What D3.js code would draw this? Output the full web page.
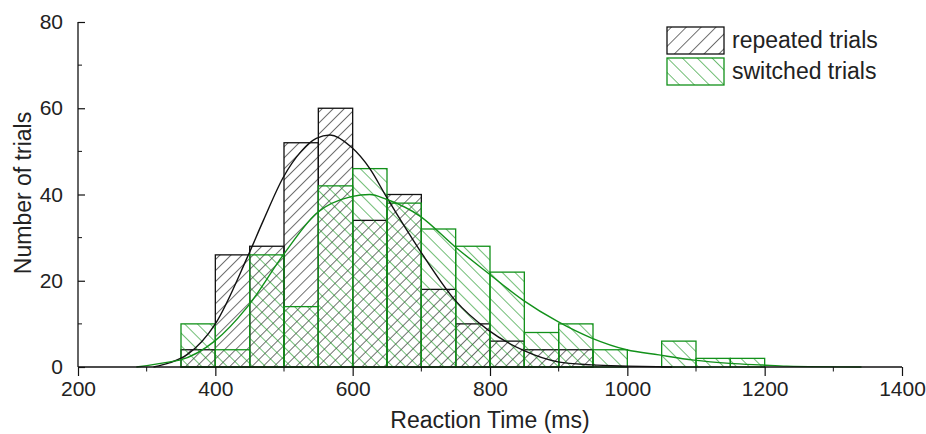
<!DOCTYPE html>
<html>
<head>
<meta charset="utf-8">
<script src="https://cdn.jsdelivr.net/npm/d3@7"></script>
<style>
  html, body { margin: 0; padding: 0; background: #fff; }
  svg { display: block; font-family: "Liberation Sans", Arial, sans-serif; }
</style>
</head>
<body>
<script>
(function () {
  'use strict';

  // histogram bins (left edge, ms), all 50 ms wide
  var binStarts = [350, 400, 450, 500, 550, 600, 650, 700, 750, 800, 850, 900, 950, 1000, 1050, 1100, 1150];
  var binWidth = 50;
  var repeatedCounts = [4, 26, 28, 52, 60, 34, 40, 18, 10, 6, 4, 4, 0, 0, 0, 0, 0];
  var switchedCounts = [10, 4, 26, 14, 42, 46, 38, 32, 28, 22, 8, 10, 4, 0, 6, 2, 2];

  // fitted curves [ms, count]
  var repeatedFit = [[310, 0], [334, 1], [360, 3], [400, 10], [447, 25.6], [470, 34], [499, 44], [525, 50],
    [547, 53], [567, 53.8], [598, 51], [625, 46], [649, 39.5], [698, 27], [749, 15.5], [797, 8.6],
    [848, 3.9], [899, 1.2], [948, 0.5], [1000, 0.2], [1065, 0]];
  var switchedFit = [[285, 0], [334, 1.2], [348, 1.6], [399, 6], [447, 14], [499, 26], [547, 35.6],
    [598, 39.5], [625, 40], [649, 38.9], [698, 35], [749, 27.9], [797, 21.8], [848, 15.5], [899, 10.5],
    [948, 6.7], [999, 4], [1046, 2.8], [1097, 1.6], [1149, 0.85], [1197, 0.46], [1232, 0.2], [1341, 0]];

  var xTicks = [200, 400, 600, 800, 1000, 1200, 1400];
  var xMinorTicks = [300, 500, 700, 900, 1100, 1300];
  var yTicks = [0, 20, 40, 60, 80];
  var yMinorTicks = [10, 30, 50, 70];
  var seriesNames = ['repeated trials', 'switched trials'];

  var W = 926, H = 434;
  var left = 78, right = 902, top = 22, bottom = 367;
  var black = '#111', green = '#12911a';
  var textColor = '#222';

  var svg = d3.select('body').append('svg')
    .attr('width', W)
    .attr('height', H);

  var x = d3.scaleLinear().domain([200, 1400]).range([left, right]);
  var y = d3.scaleLinear().domain([0, 80]).range([bottom, top]);

  var defs = svg.append('defs');
  makeHatch('hatchRep', black, 45, 7.8);
  makeHatch('hatchSw', green, -45, 9);
  makeHatch('hatchRepLeg', black, 45, 10.5);
  makeHatch('hatchSwLeg', green, -45, 10.5);

  drawBars(repeatedCounts, black, 'hatchRep');
  drawBars(switchedCounts, green, 'hatchSw');

  var line = d3.line()
    .x(function (d) { return x(d[0]); })
    .y(function (d) { return y(d[1]); })
    .curve(d3.curveMonotoneX);

  svg.append('path')
    .attr('d', line(repeatedFit))
    .attr('fill', 'none')
    .attr('stroke', black)
    .attr('stroke-width', 1.4);

  svg.append('path')
    .attr('d', line(switchedFit))
    .attr('fill', 'none')
    .attr('stroke', green)
    .attr('stroke-width', 1.4);

  drawAxes();
  drawLegend();

  function makeHatch(id, color, angle, gap) {
    var p = defs.append('pattern')
      .attr('id', id)
      .attr('patternUnits', 'userSpaceOnUse')
      .attr('width', gap)
      .attr('height', gap)
      .attr('patternTransform', 'rotate(' + angle + ')');
    p.append('line')
      .attr('x1', 0).attr('y1', 0)
      .attr('x2', 0).attr('y2', gap)
      .attr('stroke', color)
      .attr('stroke-width', 1.2);
  }

  function drawBars(counts, color, patternId) {
    var data = binStarts.map(function (b, i) {
      return { x0: b, x1: b + binWidth, v: counts[i] };
    }).filter(function (d) { return d.v > 0; });

    svg.append('g')
      .selectAll('rect')
      .data(data)
      .enter()
      .append('rect')
      .attr('x', function (d) { return x(d.x0); })
      .attr('y', function (d) { return y(d.v); })
      .attr('width', function (d) { return x(d.x1) - x(d.x0); })
      .attr('height', function (d) { return y(0) - y(d.v); })
      .attr('fill', 'url(#' + patternId + ')')
      .attr('stroke', color)
      .attr('stroke-width', 1.3);
  }

  function drawAxes() {
    var xAxis = svg.append('g')
      .attr('transform', 'translate(0,' + bottom + ')')
      .call(d3.axisBottom(x).tickValues(xTicks).tickFormat(d3.format('d')).tickSize(9).tickPadding(5));
    xAxis.append('g')
      .selectAll('line')
      .data(xMinorTicks)
      .enter()
      .append('line')
      .attr('x1', function (d) { return x(d); })
      .attr('x2', function (d) { return x(d); })
      .attr('y1', 0)
      .attr('y2', 4.5)
      .attr('stroke', black);

    var yAxis = svg.append('g')
      .attr('transform', 'translate(' + left + ',0)')
      .call(d3.axisLeft(y).tickValues(yTicks).tickFormat(d3.format('d')).tickSize(-7).tickPadding(15));
    yAxis.append('g')
      .selectAll('line')
      .data(yMinorTicks)
      .enter()
      .append('line')
      .attr('x1', 0)
      .attr('x2', 4)
      .attr('y1', function (d) { return y(d); })
      .attr('y2', function (d) { return y(d); })
      .attr('stroke', black);

    svg.selectAll('.domain').attr('stroke', black).attr('stroke-width', 1.3);
    svg.selectAll('.tick line').attr('stroke', black).attr('stroke-width', 1.2);
    svg.selectAll('.tick text')
      .attr('font-family', '"Liberation Sans", Arial, sans-serif')
      .attr('font-size', 21)
      .attr('fill', textColor);

    // plain axis lines without end caps
    yAxis.select('.domain').attr('d', 'M0,' + top + 'V' + bottom);
    xAxis.select('.domain').attr('d', 'M' + left + ',0H' + right);

    svg.append('text')
      .attr('x', 490)
      .attr('y', 428)
      .attr('text-anchor', 'middle')
      .attr('font-size', 23)
      .attr('fill', textColor)
      .text('Reaction Time (ms)');

    svg.append('text')
      .attr('transform', 'translate(31,' + 193 + ') rotate(-90)')
      .attr('text-anchor', 'middle')
      .attr('font-size', 23)
      .attr('fill', textColor)
      .text('Number of trials');
  }

  function drawLegend() {
    var items = [
      { name: seriesNames[0], color: black, pat: 'hatchRepLeg', y: 27 },
      { name: seriesNames[1], color: green, pat: 'hatchSwLeg', y: 58 }
    ];
    var g = svg.append('g');
    items.forEach(function (it) {
      g.append('rect')
        .attr('x', 667)
        .attr('y', it.y)
        .attr('width', 57)
        .attr('height', 27)
        .attr('fill', 'url(#' + it.pat + ')')
        .attr('stroke', it.color)
        .attr('stroke-width', 1.3);
      g.append('text')
        .attr('x', 732)
        .attr('y', it.y + 21)
        .attr('font-size', 23)
        .attr('fill', textColor)
        .text(it.name);
    });
  }
}());
</script>
</body>
</html>
